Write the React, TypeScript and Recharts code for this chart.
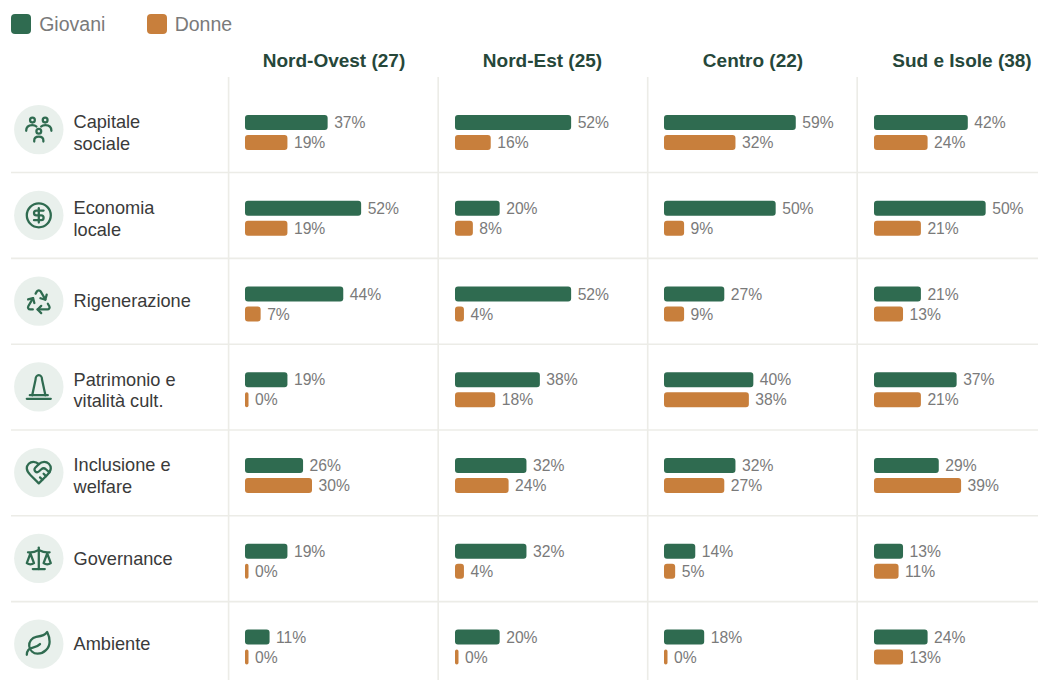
import React from "react";
import { BarChart, Bar, XAxis, YAxis, LabelList } from "recharts";

const categories = [
  "Capitale sociale",
  "Economia locale",
  "Rigenerazione",
  "Patrimonio e vitalità cult.",
  "Inclusione e welfare",
  "Governance",
  "Ambiente",
];
const categoryLines = [
  ["Capitale", "sociale"],
  ["Economia", "locale"],
  ["Rigenerazione"],
  ["Patrimonio e", "vitalità cult."],
  ["Inclusione e", "welfare"],
  ["Governance"],
  ["Ambiente"],
];

const regions = ["Nord-Ovest (27)", "Nord-Est (25)", "Centro (22)", "Sud e Isole (38)"];
const giovani = [
  [37, 52, 44, 19, 26, 19, 11],
  [52, 20, 52, 38, 32, 32, 20],
  [59, 50, 27, 40, 32, 14, 18],
  [42, 50, 21, 37, 29, 13, 24],
];
const donne = [
  [19, 19, 7, 0, 30, 0, 0],
  [16, 8, 4, 18, 24, 4, 0],
  [32, 9, 9, 38, 27, 5, 0],
  [24, 21, 13, 21, 39, 11, 13],
];

const GREEN = "#2f6b50";
const ORANGE = "#c87f3c";
const GRID = "#ecece7";
const FONT = "'Liberation Sans', Arial, sans-serif";

const ROW_H = 85.75;
const CHART_TOP = 89.5;
const AXIS_W = 245;
const PLOT_W = 134;
const COL_W = 192;
const colLeft = [245, 454.5, 664, 873.5];
const headerX = [334, 542.5, 753, 962];
const vLines = [228.6, 438.2, 647.7, 857.2];
const hLines = [172.5, 258.4, 344.2, 430, 515.8, 601.6];

// one icon per row, in a 24 unit box
const icons: React.ReactNode[] = [
  <>
    <circle cx="6.7" cy="4.1" r="2" />
    <circle cx="17.3" cy="4.1" r="2" />
    <circle cx="12" cy="13.4" r="2" />
    <path d="M1.5 13c0-3 2-4.8 5-4.8 1.5 0 2.7.4 3.5 1.3" />
    <path d="M22.5 13c0-3-2-4.8-5-4.8-1.5 0-2.7.4-3.5 1.3" />
    <path d="M8.2 22v-.8c0-2.2 1.4-3.3 3.8-3.3s3.8 1.1 3.8 3.3v.8" />
  </>,
  <>
    <circle cx="12" cy="12" r="10" />
    <path d="M16 8h-6a2 2 0 1 0 0 4h4a2 2 0 1 1 0 4H8" />
    <path d="M12 18V6" />
  </>,
  <>
    <path d="M7 19H4.815a1.83 1.83 0 0 1-1.57-.881 1.785 1.785 0 0 1-.004-1.784L7.196 9.5" />
    <path d="M11 19h8.203a1.83 1.83 0 0 0 1.556-.89 1.784 1.784 0 0 0 0-1.775l-1.226-2.12" />
    <path d="m14 16-3 3 3 3" />
    <path d="M8.293 13.596 7.196 9.5 3.1 10.598" />
    <path d="m9.344 5.811 1.093-1.892A1.83 1.83 0 0 1 11.985 3a1.784 1.784 0 0 1 1.546.888l3.943 6.843" />
    <path d="m13.378 9.633 4.096 1.098 1.097-4.096" />
  </>,
  <>
    <path d="M6.5 19 9.3 6a2.7 3.7 0 0 1 5.4 0L17.5 19" />
    <path d="M4.5 19h15" />
    <path d="M2 22h20" />
  </>,
  <>
    <path d="M19 14c1.49-1.46 3-3.21 3-5.5A5.5 5.5 0 0 0 16.5 3c-1.76 0-3 .5-4.5 2-1.5-1.5-2.74-2-4.5-2A5.5 5.5 0 0 0 2 8.5c0 2.3 1.5 4.05 3 5.5l7 7Z" />
    <path d="M12 5 9.04 7.96a2.17 2.17 0 0 0 0 3.08c.82.82 2.13.85 3 .07l2.07-1.9a2.82 2.82 0 0 1 3.79 0l2.96 2.66" />
    <path d="m18 15-2-2" />
    <path d="m15 18-2-2" />
  </>,
  <>
    <path d="m16 16 3-8 3 8c-.87.65-1.92 1-3 1s-2.13-.35-3-1Z" />
    <path d="m2 16 3-8 3 8c-.87.65-1.92 1-3 1s-2.13-.35-3-1Z" />
    <path d="M7 21h10" />
    <path d="M12 3v18" />
    <path d="M3 7h2c2 0 5-1 7-2 2 1 5 2 7 2h2" />
  </>,
  <>
    <path d="M11 20A7 7 0 0 1 9.8 6.1C15.5 5 17 4.48 19 2c1 2 2 4.18 2 8 0 5.5-4.78 10-10 10Z" />
    <path d="M2 21c0-3 1.85-5.36 5.08-6C9.5 14.52 12 13 13 12" />
  </>,
];

const CategoryTick = (props: any) => {
  const { y, payload } = props;
  const i = categories.indexOf(payload.value);
  const lines = categoryLines[i];
  const firstY = lines.length === 1 ? 3 : -4.5;
  return (
    <g transform={`translate(0,${y})`}>
      <circle cx={38.8} cy={-3.3} r={24.7} fill="#e9f0ec" />
      <g
        transform="translate(24.4,-17.7) scale(1.2)"
        fill="none"
        stroke={GREEN}
        strokeWidth={1.9}
        strokeLinecap="round"
        strokeLinejoin="round"
      >
        {icons[i]}
      </g>
      <text x={73.5} y={firstY} fontSize={18.2} fontFamily={FONT} fill="#3a3a3a">
        {lines.map((line, k) => (
          <tspan key={line} x={73.5} dy={k === 0 ? 0 : 21.5}>
            {line}
          </tspan>
        ))}
      </text>
    </g>
  );
};

const pct = (v: any) => `${v}%`;
const valueLabel = { fontSize: 15.7, fontFamily: FONT, fill: "#7a7a7a" };

const RegionChart = ({ col }: { col: number }) => {
  const rows = categories.map((name, i) => ({
    name,
    giovani: giovani[col][i],
    donne: donne[col][i],
  }));
  const axisW = col === 0 ? AXIS_W : 0;
  return (
    <div style={{ position: "absolute", left: col === 0 ? 0 : colLeft[col], top: CHART_TOP }}>
      <BarChart
        width={axisW + COL_W}
        height={ROW_H * 7}
        data={rows}
        layout="vertical"
        barSize={15}
        barGap={5}
        margin={{ top: 0, right: COL_W - PLOT_W, bottom: 0, left: 0 }}
      >
        <XAxis type="number" domain={[0, 60]} hide />
        <YAxis
          type="category"
          dataKey="name"
          width={axisW}
          hide={col !== 0}
          interval={0}
          axisLine={false}
          tickLine={false}
          tick={<CategoryTick />}
        />
        <Bar dataKey="giovani" fill={GREEN} radius={3} minPointSize={3.5} isAnimationActive={false}>
          <LabelList dataKey="giovani" position="right" offset={6.5} formatter={pct} style={valueLabel} />
        </Bar>
        <Bar dataKey="donne" fill={ORANGE} radius={3} minPointSize={3.5} isAnimationActive={false}>
          <LabelList dataKey="donne" position="right" offset={6.5} formatter={pct} style={valueLabel} />
        </Bar>
      </BarChart>
    </div>
  );
};

const LegendItem = ({ x, color, name }: { x: number; color: string; name: string }) => (
  <>
    <div
      style={{ position: "absolute", left: x, top: 14, width: 20, height: 20, borderRadius: 4, background: color }}
    />
    <div style={{ position: "absolute", left: x + 28.2, top: 13, fontSize: 19.5, lineHeight: "22px", color: "#7a7a7a" }}>
      {name}
    </div>
  </>
);

export default function App() {
  return (
    <div
      style={{
        position: "absolute",
        left: 0,
        top: 0,
        width: 1038,
        height: 680,
        overflow: "hidden",
        background: "#fff",
        fontFamily: FONT,
      }}
    >
      <LegendItem x={11} color={GREEN} name="Giovani" />
      <LegendItem x={146.5} color={ORANGE} name="Donne" />
      {regions.map((r, i) => (
        <div
          key={r}
          style={{
            position: "absolute",
            left: headerX[i] - 100,
            width: 200,
            top: 49.5,
            textAlign: "center",
            fontSize: 19,
            lineHeight: "22px",
            fontWeight: 700,
            color: "#26473a",
          }}
        >
          {r}
        </div>
      ))}
      <svg width={1038} height={680} style={{ position: "absolute", left: 0, top: 0 }}>
        {hLines.map((y) => (
          <line key={y} x1={11} x2={1038} y1={y} y2={y} stroke={GRID} strokeWidth={1.6} />
        ))}
        {vLines.map((x) => (
          <line key={x} x1={x} x2={x} y1={77} y2={680} stroke={GRID} strokeWidth={1.6} />
        ))}
      </svg>
      {regions.map((r, i) => (
        <RegionChart key={r} col={i} />
      ))}
    </div>
  );
}
